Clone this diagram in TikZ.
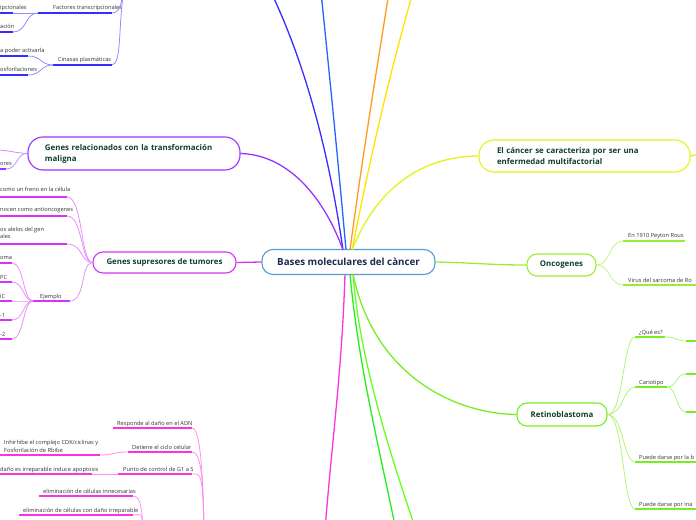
\documentclass[tikz,border=0pt]{standalone}
\usepackage{fontspec}
\setmainfont{Open Sans}
\definecolor{navy}{HTML}{1B2A4E}
\definecolor{dgreen}{HTML}{0F3D2E}
\definecolor{leaftext}{HTML}{333333}
\definecolor{cmain}{HTML}{5B9BD5}
\definecolor{cviol}{HTML}{9933FF}
\definecolor{csup}{HTML}{D633F5}
\definecolor{cbot}{HTML}{FF33DD}
\definecolor{ctl}{HTML}{3A2BFF}
\definecolor{cblue}{HTML}{2266FF}
\definecolor{corange}{HTML}{FF9922}
\definecolor{cyellow}{HTML}{FFE400}
\definecolor{ccan}{HTML}{E4F21A}
\definecolor{conc}{HTML}{99EE33}
\definecolor{cret}{HTML}{77EE22}
\definecolor{cgone}{HTML}{22EE22}
\definecolor{cgtwo}{HTML}{66FF22}
\begin{document}
\begin{tikzpicture}[x=1bp,y=-1bp,
  mainnode/.style={draw=cmain, line width=1.1bp, rounded corners=11bp, fill=white,
    minimum width=173bp, minimum height=25bp, inner sep=0pt,
    font=\bfseries\fontsize{9.8}{12}\selectfont, text=navy},
  topic/.style={line width=1.1bp, fill=white, inner sep=0pt,
    font=\bfseries\fontsize{7.9}{11}\selectfont, text=dgreen},
  leaf/.style={font=\fontsize{5.7}{7.5}\selectfont, text=leaftext, inner sep=0pt, anchor=base west, align=left},
  ul/.style={line width=1.7bp},
  cn/.style={line width=0.8bp},
  big/.style={line width=1.3bp}]
\useasboundingbox (0,0) rectangle (696,520);
\clip (0,0) rectangle (696,520);

% ---------- lines from the centre ----------
\coordinate (ctop1) at (343,250);
\coordinate (ctop2) at (346,250);
\coordinate (ctop3) at (350,250);
\coordinate (ctop4) at (352,250);
\coordinate (cbot1) at (345,274);
\coordinate (cbot2) at (350,274);
\coordinate (cbot3) at (353,274);
\coordinate (endA) at (271,-8);
\coordinate (endB) at (321,-8);
\coordinate (endC) at (389,-8);
\coordinate (endD) at (413,-8);
\coordinate (endE) at (325,530);
\coordinate (endF) at (396,530);
\coordinate (endG) at (416,530);
\draw[big, ctl] (ctop1) .. controls (330,160) and (308,70) .. (endA);
\draw[big, cblue] (ctop2) .. controls (338,160) and (330,80) .. (endB);
\draw[big, corange] (ctop3) .. controls (362,160) and (375,80) .. (endC);
\draw[big, cyellow] (ctop4) .. controls (368,170) and (385,90) .. (endD);
\draw[big, cbot] (cbot1) .. controls (342,370) and (332,440) .. (endE);
\draw[big, cgone] (cbot2) .. controls (358,360) and (375,430) .. (endF);
\draw[big, cgtwo] (cbot3) .. controls (358,340) and (378,420) .. (endG);

% ---------- main topics ----------
\node[mainnode] (main) at (348.5,262) {Bases moleculares del càncer};

\node[topic, draw=cviol, rounded corners=15bp, text width=178bp, inner xsep=17bp,
  minimum height=33bp, align=left] (grel) at (134,153.5)
  {Genes relacionados con la transformación\\maligna};
\node[topic, draw=csup, rounded corners=10bp, minimum width=143bp, minimum height=21bp]
  (gsup) at (164.5,262.5) {Genes supresores de tumores};
\node[topic, draw=ccan, rounded corners=15bp, text width=175bp, inner xsep=18bp,
  minimum height=32bp, align=left] (can) at (584.5,156)
  {El cáncer se caracteriza por ser una\\enfermedad multifactorial};
\node[topic, draw=conc, rounded corners=10bp, minimum width=69bp, minimum height=22bp]
  (onc) at (561.5,265) {Oncogenes};
\node[topic, draw=cret, rounded corners=10bp, minimum width=90bp, minimum height=23bp]
  (ret) at (562,414.5) {Retinoblastoma};

\draw[big, cviol] (ctop1) .. controls (325,200) and (290,155) .. (grel.east);
\draw[big, csup] (gsup.east) -- (main.west);
\draw[big, ccan] (ctop4) .. controls (380,180) and (430,156) .. (can.west);
\draw[big, conc] (main.east) .. controls (480,263) and (490,265) .. (onc.west);
\draw[big, cret] (cbot3) .. controls (375,380) and (460,414) .. (ret.west);
\coordinate (canout) at (700,154);
\draw[big, ccan] (can.east) -- (canout);

% ---------- top-left branch ----------
\coordinate (upTL) at (124,-10);
\node[leaf] (ft) at (53,10) {Factores transcripcionales};
\coordinate (ftA) at (38,13); \coordinate (ftB) at (112,13);
\draw[ul, ctl] (ftA) -- (ftB);
\draw[cn, ctl!55] (ftB) .. controls (120,13) and (121,4) .. (upTL);
\node[leaf] (ci) at (58,62) {Cinasas plasmáticas};
\coordinate (ciA) at (53,65); \coordinate (ciB) at (112,65);
\draw[ul, ctl] (ciA) -- (ciB);
\draw[cn, ctl!55] (ciB) .. controls (122,64) and (118,25) .. (upTL);

\node[leaf] (tl1) at (0,10) {ipcionales};
\coordinate (tl1a) at (0,13); \coordinate (tl1b) at (13,13);
\draw[ul, ctl] (tl1a) -- (tl1b);
\draw[cn, ctl!55] (tl1b) -- (ftA);
\node[leaf] (tl2) at (0,29) {ación};
\coordinate (tl2a) at (0,32); \coordinate (tl2b) at (13,32);
\draw[ul, ctl] (tl2a) -- (tl2b);
\draw[cn, ctl!55] (tl2b) .. controls (27,32) and (25,13) .. (ftA);
\node[leaf] (tl3) at (0,53) {a poder activarla};
\coordinate (tl3a) at (0,56); \coordinate (tl3b) at (28,56);
\draw[ul, ctl] (tl3a) -- (tl3b);
\draw[cn, ctl!55] (tl3b) .. controls (42,56) and (40,65) .. (ciA);
\node[leaf] (tl4) at (0,72) {osforilaciones};
\coordinate (tl4a) at (0,75); \coordinate (tl4b) at (28,75);
\draw[ul, ctl] (tl4a) -- (tl4b);
\draw[cn, ctl!55] (tl4b) .. controls (42,75) and (40,65) .. (ciA);

% ---------- genes relacionados: left ----------
\coordinate (gr1) at (-4,150);
\draw[cn, cviol!55] (grel.west) .. controls (15,153) and (8,150) .. (gr1);
\node[leaf] (gr2) at (0,166) {ores};
\coordinate (gr2a) at (0,169); \coordinate (gr2b) at (6,169);
\draw[ul, cviol] (gr2a) -- (gr2b);
\draw[cn, cviol!55] (gr2b) .. controls (18,169) and (16,153) .. (grel.west);

% ---------- genes supresores: left ----------
\node[leaf] (s1) at (0,192) {como un freno en la célula};
\coordinate (s1a) at (0,197); \coordinate (s1b) at (67,197);
\node[leaf] (s2) at (0,212) {nocen como antioncogenes};
\coordinate (s2a) at (0,216); \coordinate (s2b) at (67,216);
\node[leaf] (s3) at (0,239) {os alelos del gen\\ales};
\coordinate (s3a) at (0,244); \coordinate (s3b) at (67,244);
\node[leaf] (s4) at (40,298) {Ejemplo};
\coordinate (s4a) at (33,301); \coordinate (s4b) at (70,301);
\foreach \a/\b in {s1a/s1b,s2a/s2b,s3a/s3b,s4a/s4b}
  \draw[ul, csup] (\a) -- (\b);
\foreach \b in {s1b,s2b,s3b,s4b}
  \draw[cn, csup!55] (\b) .. controls +(16,0) and +(-12,0) .. (gsup.west);

\node[leaf] (e1) at (0,260) {oma};
\node[leaf] (e2) at (0,279) {PC};
\node[leaf] (e3) at (0,298) {iC};
\node[leaf] (e4) at (0,317) {-1};
\node[leaf] (e5) at (0,336) {-2};
\foreach \n/\y in {e1/263,e2/282,e3/301,e4/320,e5/339}{
  \coordinate (\n a) at (0,\y); \coordinate (\n b) at (12,\y);
  \draw[ul, csup] (\n a) -- (\n b);
  \draw[cn, csup!55] (\n b) .. controls +(12,0) and +(-10,0) .. (s4a);
}

% ---------- bottom-left branch ----------
\coordinate (downBL) at (204,530);
\coordinate (downBL2) at (143,530);
\node[leaf] (b1) at (117,425) {Responde al daño en el ADN};
\coordinate (b1a) at (113,428); \coordinate (b1b) at (192,428);
\node[leaf] (b2) at (132,449) {Detiene el ciclo celular};
\coordinate (b2a) at (128,452); \coordinate (b2b) at (192,452);
\node[leaf] (b3) at (123,471) {Punto de control de G1 a S};
\coordinate (b3a) at (118,474); \coordinate (b3b) at (192,474);
\foreach \a/\b in {b1a/b1b,b2a/b2b,b3a/b3b}{
  \draw[ul, cbot] (\a) -- (\b);
  \draw[cn, cbot!55] (\b) .. controls +(8,0) and +(-1,-60) .. (downBL);
}
\node[leaf] (b4) at (4,452) {Inhirhibe el complejo CDK/ciclinas y\\Fosforilación de Rbibe};
\coordinate (b4a) at (0,455); \coordinate (b4b) at (100,455);
\draw[ul, cbot] (b4a) -- (b4b);
\draw[cn, cbot!55] (b4b) .. controls (112,455) and (114,452) .. (b2a);
\node[leaf] (b5) at (0,471) {daño es irreparable induce apoptosis};
\coordinate (b5a) at (0,474); \coordinate (b5b) at (92,474);
\draw[ul, cbot] (b5a) -- (b5b);
\draw[cn, cbot!55] (b5b) -- (b3a);
\node[leaf] (b6) at (43,493) {eliminación de células innecesarias};
\coordinate (b6a) at (39,496); \coordinate (b6b) at (133,496);
\node[leaf] (b7) at (23,512) {eliminación de células con daño irreparable};
\coordinate (b7a) at (19,515); \coordinate (b7b) at (133,515);
\foreach \a/\b in {b6a/b6b,b7a/b7b}{
  \draw[ul, cbot] (\a) -- (\b);
  \draw[cn, cbot!55] (\b) .. controls +(8,0) and +(-1,-20) .. (downBL2);
}

% ---------- oncogenes children ----------
\node[leaf] (o1) at (628,238) {En 1910 Peyton Rous};
\coordinate (o1a) at (623,241); \coordinate (o1b) at (685,241);
\node[leaf] (o2) at (628,282) {Virus del sarcoma de Ro};
\coordinate (o2a) at (623,285); \coordinate (o2b) at (700,285);
\foreach \a/\b in {o1a/o1b,o2a/o2b}{
  \draw[ul, conc] (\a) -- (\b);
  \draw[cn, conc!60] (onc.east) .. controls +(14,0) and +(-14,0) .. (\a);
}

% ---------- retinoblastoma children ----------
\node[leaf] (r1) at (639,334) {¿Qué es?};
\coordinate (r1a) at (635,337); \coordinate (r1b) at (665,337);
\node[leaf] (r2) at (639,384) {Cariotipo};
\coordinate (r2a) at (635,387); \coordinate (r2b) at (667,387);
\node[leaf] (r3) at (639,459) {Puede darse por la b};
\coordinate (r3a) at (635,462); \coordinate (r3b) at (700,462);
\node[leaf] (r4) at (639,506) {Puede darse por ina};
\coordinate (r4a) at (635,509); \coordinate (r4b) at (700,509);
\foreach \a/\b in {r1a/r1b,r2a/r2b,r3a/r3b,r4a/r4b}{
  \draw[ul, cret] (\a) -- (\b);
  \draw[cn, cret!60] (ret.east) .. controls +(16,0) and +(-12,0) .. (\a);
}
\coordinate (q1a) at (686,341); \coordinate (q1b) at (700,341);
\coordinate (k1a) at (686,374); \coordinate (k1b) at (700,374);
\coordinate (k2a) at (686,412); \coordinate (k2b) at (700,412);
\foreach \a/\b in {q1a/q1b,k1a/k1b,k2a/k2b}
  \draw[ul, cret] (\a) -- (\b);
\draw[cn, cret!60] (r1b) .. controls +(12,0) and +(-10,0) .. (q1a);
\draw[cn, cret!60] (r2b) .. controls +(10,0) and +(-10,0) .. (k1a);
\draw[cn, cret!60] (r2b) .. controls +(10,0) and +(-10,0) .. (k2a);
\end{tikzpicture}
\end{document}
